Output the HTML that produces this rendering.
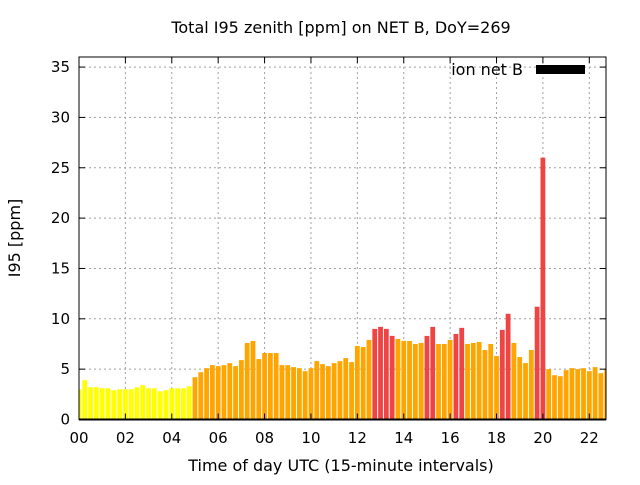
<!DOCTYPE html>
<html><head><meta charset="utf-8"><style>
html,body{margin:0;padding:0;background:#fff;}
svg text{font-family:"DejaVu Sans","Liberation Sans",sans-serif;font-size:15px;fill:#000;}
svg text.big{font-size:16px;}
</style></head><body>
<svg id="chart" width="640" height="480" xmlns="http://www.w3.org/2000/svg">
<rect width="640" height="480" fill="#fff"/>
<text class="big" x="341" y="33" text-anchor="middle">Total I95 zenith [ppm] on NET B, DoY=269</text>
<g id="grid"></g>
<g id="bars"></g>
<g id="axes"></g>
<text class="big" x="341" y="471" text-anchor="middle">Time of day UTC (15-minute intervals)</text>
<text class="big" transform="translate(20,238) rotate(-90)" text-anchor="middle">I95 [ppm]</text>
<g>
<text class="big" x="523" y="75" text-anchor="end">ion net B</text>
<rect x="536" y="65" width="49" height="9" fill="#000"/>
</g>
</svg>
<script>
const values=[3.0,3.9,3.2,3.2,3.1,3.1,2.9,3.0,3.0,3.0,3.2,3.4,3.1,3.1,2.8,2.9,3.1,3.1,3.1,3.3,
4.2,4.7,5.1,5.4,5.3,5.4,5.6,5.3,5.9,7.6,7.8,6.0,6.6,6.6,6.6,5.4,5.4,5.2,5.1,4.8,
5.1,5.8,5.5,5.3,5.6,5.8,6.1,5.7,7.3,7.2,7.9,9.0,9.2,9.0,8.3,8.0,7.8,7.8,7.5,7.6,
8.3,9.2,7.5,7.5,7.9,8.5,9.1,7.5,7.6,7.7,6.9,7.5,6.3,8.9,10.5,7.6,6.2,5.6,6.9,11.2,
26.0,5.0,4.4,4.3,4.9,5.1,5.0,5.1,4.8,5.2,4.6,5.0];
const yTicks=[0,5,10,15,20,25,30,35];
const xTickHours=[0,2,4,6,8,10,12,14,16,18,20,22];
const xTickLabels=["00","02","04","06","08","10","12","14","16","18","20","22"];
const L=79,R=606,T=57,B=419.5,HMAX=22.72,YMAX=36;
const xs=h=>L+h*(R-L)/HMAX;
const ys=v=>B-v*(B-T)/YMAX;
const NS="http://www.w3.org/2000/svg";
function mk(tag,attrs,parent){const e=document.createElementNS(NS,tag);for(const k in attrs)e.setAttribute(k,attrs[k]);parent.appendChild(e);return e;}
const grid=document.getElementById('grid'),bars=document.getElementById('bars'),axes=document.getElementById('axes');
yTicks.forEach(v=>{if(v>0){const g=mk('line',{x1:L,x2:R,y1:ys(v),y2:ys(v),stroke:'#a0a0a0','stroke-width':1,'stroke-dasharray':'2,3'},grid);

}
const t=mk('text',{x:L-9,y:ys(v)+5,'text-anchor':'end'},axes);t.textContent=v;


[[L,L+6],[R,R-6]].forEach(p=>{const k=mk('line',{x1:p[0],x2:p[1],y1:ys(v),y2:ys(v),stroke:'#000'},axes);

});});
xTickHours.forEach((h,i)=>{if(h>0){const g=mk('line',{x1:xs(h),x2:xs(h),y1:T,y2:B,stroke:'#a0a0a0','stroke-width':1,'stroke-dasharray':'2,3'},grid);

}
const t=mk('text',{x:xs(h),y:443,'text-anchor':'middle'},axes);t.textContent=xTickLabels[i];


[[B,B-6],[T,T+6]].forEach(p=>{const k=mk('line',{x1:xs(h),x2:xs(h),y1:p[0],y2:p[1],stroke:'#000'},axes);

});});
values.forEach((v,i)=>{const h=i*0.25;let c=h<5?'#ffff00':(v>8.2?'#ef4444':'#ffa500');
let x0=Math.max(L,xs(h)-2.4),x1=Math.min(R,xs(h)+2.4);
const r=mk('rect',{x:x0,y:ys(v),width:x1-x0,height:B-ys(v),fill:c},bars);

});
const f=mk('rect',{x:L,y:T,width:R-L,height:B-T,fill:'none',stroke:'#000','stroke-width':1},axes);


const bl=mk('line',{x1:L,x2:R,y1:B,y2:B,stroke:'#000','stroke-width':2},axes);


</script>
</body></html>
